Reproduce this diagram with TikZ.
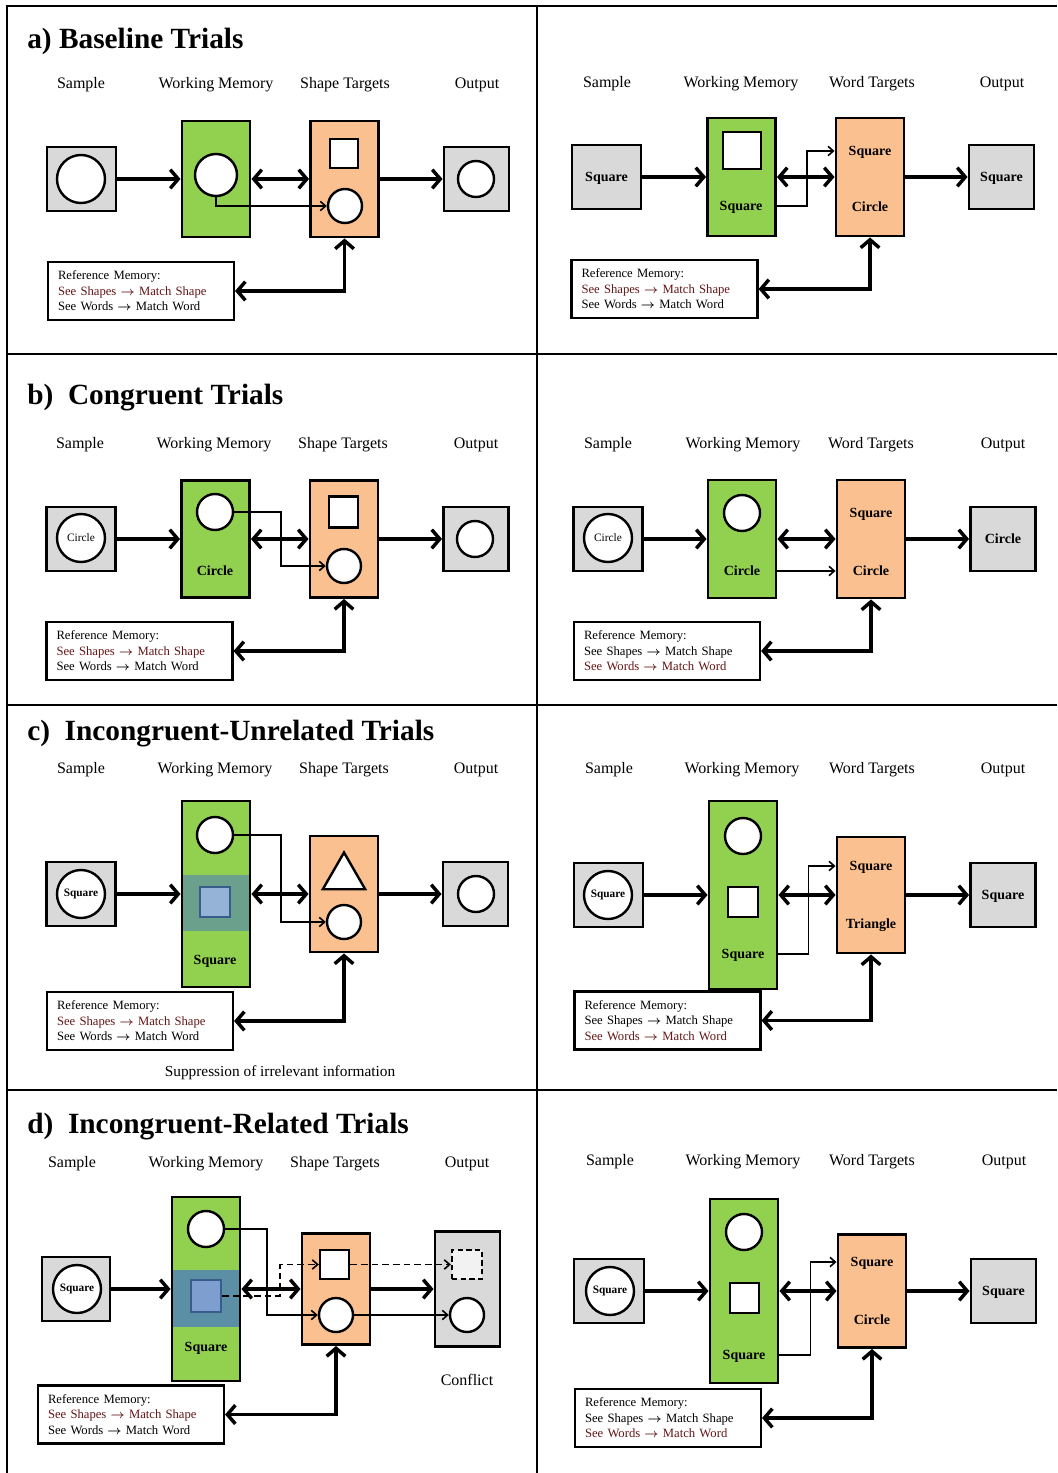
\documentclass[tikz,border=0pt]{standalone}
\usepackage{fontspec}
\usepackage{amsmath}
\setmainfont{Liberation Serif}
\usetikzlibrary{arrows.meta,shapes.geometric}

\definecolor{boxgray}{RGB}{217,217,217}
\definecolor{wmgreen}{RGB}{146,208,80}
\definecolor{tgtorange}{RGB}{250,192,144}
\definecolor{bandteal}{RGB}{106,160,140}
\definecolor{bandsteel}{RGB}{90,143,165}
\definecolor{sqblue}{RGB}{149,179,215}
\definecolor{sqbluedark}{RGB}{126,158,208}
\definecolor{sqedge}{RGB}{56,93,138}
\definecolor{ghostgray}{RGB}{242,242,242}
\definecolor{refred}{RGB}{100,22,22}

\newlength\pxu
\setlength\pxu{0.75pt}

\begin{document}
\begin{tikzpicture}[
    x=0.75pt, y=-0.75pt,
    every node/.style={inner sep=0pt, align=center},
    smp/.style={draw=black, fill=boxgray, line width=2.2pt, minimum width=69*\pxu, minimum height=64*\pxu},
    outb/.style={draw=black, fill=boxgray, line width=2.2pt, minimum width=65*\pxu, minimum height=64*\pxu},
    wm/.style={draw=black, fill=wmgreen, line width=2.2pt, minimum width=68*\pxu},
    tgt/.style={draw=black, fill=tgtorange, line width=2.2pt, minimum width=68*\pxu},
    band/.style={minimum width=66*\pxu, minimum height=56*\pxu},
    ring/.style={circle, draw=black, fill=white, line width=1.8pt},
    sq/.style={draw=black, fill=white, line width=1.8pt},
    refbox/.style={draw=black, fill=white, line width=1.6pt, align=left, text width=124.5pt, inner xsep=7.5pt, minimum height=43.5pt, font=\fontsize{9.5}{11.6}\selectfont},
    ttl/.style={anchor=west, yshift=-2pt, font=\fontsize{22}{25}\selectfont\bfseries},
    hdr/.style={yshift=-1.5pt, font=\fontsize{12}{14}\selectfont},
    lbl/.style={font=\fontsize{10.5}{12}\selectfont\bfseries, text height=7.5pt, text depth=0.5pt},
    ctxt/.style={font=\fontsize{8.5}{10}\selectfont},
    flow/.style={line width=2.6pt, -{Straight Barb[length=6pt, width=14pt]}},
    both/.style={line width=2.6pt, {Straight Barb[length=6pt, width=14pt]}-{Straight Barb[length=6pt, width=14pt]}},
    link/.style={line width=1.2pt, -{Straight Barb[length=4pt, width=7pt]}},
    hint/.style={link, dash pattern=on 5pt off 3pt}
]
\useasboundingbox (0,0) rectangle (1057,1473);

% frame
\draw[line width=2.2pt] (7,1473) -- (7,6) -- (1057,6);
\draw[line width=2.2pt] (537,6) -- (537,1473);
\draw[line width=2.2pt] (7,354) -- (1057,354);
\draw[line width=2.2pt] (7,705) -- (1057,705);
\draw[line width=2.2pt] (7,1090) -- (1057,1090);

% a) left
\node[ttl] (aT) at (27,39) {a) Baseline Trials};
\node[hdr] (aLh1) at (81,83) {Sample};
\node[hdr] (aLh2) at (216,83) {Working Memory};
\node[hdr] (aLh3) at (345,83) {Shape Targets};
\node[hdr] (aLh4) at (477,83) {Output};
\node[smp] (aLsmp) at (81.5,179) {};
\node[ring, minimum size=48*\pxu] (aLsc) at (81,179) {};
\node[wm, minimum height=116*\pxu] (aLwm) at (216,179) {};
\node[ring, minimum size=42*\pxu] (aLwmc) at (216,175) {};
\node[tgt, minimum height=116*\pxu] (aLtgt) at (344.5,179) {};
\node[sq, minimum width=28*\pxu, minimum height=29*\pxu] (aLtsq) at (344,153.5) {};
\node[ring, minimum size=34*\pxu] (aLtc) at (345,206) {};
\node[outb] (aLout) at (476.5,179) {};
\node[ring, minimum size=36*\pxu] (aLoc) at (476,179) {};
\node[refbox] (aLref) at (141,291) {Reference Memory:\\\textcolor{refred}{See Shapes $\boldsymbol{\rightarrow}$ Match Shape}\\See Words $\boldsymbol{\rightarrow}$ Match Word};
\draw[flow] (aLsmp) -- (aLwm);
\draw[both] (aLwm) -- (aLtgt);
\draw[flow] (aLtgt) -- (aLout);
\draw[link] (aLwmc.south) |- (aLtc.west);
\draw[both] (aLtgt.south) |- (aLref.east);

% a) right
\node[hdr] (aRh1) at (607,82) {Sample};
\node[hdr] (aRh2) at (741,82) {Working Memory};
\node[hdr] (aRh3) at (872,82) {Word Targets};
\node[hdr] (aRh4) at (1002,82) {Output};
\node[smp, lbl] (aRsmp) at (606.5,177) {Square};
\node[wm, minimum height=118*\pxu] (aRwm) at (741.5,177) {};
\node[sq, minimum width=38*\pxu, minimum height=37*\pxu] (aRwsq) at (742,150.5) {};
\node[lbl] (aRwt) at (741,206) {Square};
\node[tgt, minimum height=118*\pxu] (aRtgt) at (870,177) {};
\node[lbl] (aRt1) at (870,151) {Square};
\node[lbl] (aRt2) at (870,207) {Circle};
\node[outb, lbl] (aRout) at (1001.5,177) {Square};
\node[refbox] (aRref) at (664.5,289) {Reference Memory:\\\textcolor{refred}{See Shapes $\boldsymbol{\rightarrow}$ Match Shape}\\See Words $\boldsymbol{\rightarrow}$ Match Word};
\draw[flow] (aRsmp) -- (aRwm);
\draw[both] (aRwm) -- (aRtgt);
\draw[flow] (aRtgt) -- (aRout);
\draw[link] (aRwm.east |- aRwt) -- ++(30,0) |- (aRtgt.west |- aRt1);
\draw[both] (aRtgt.south) |- (aRref.east);

% b) left
\node[ttl] (bT) at (27,395) {b)\ \ Congruent Trials};
\node[hdr] (bLh1) at (80,443) {Sample};
\node[hdr] (bLh2) at (214,443) {Working Memory};
\node[hdr] (bLh3) at (343,443) {Shape Targets};
\node[hdr] (bLh4) at (476,443) {Output};
\node[smp] (bLsmp) at (81,539) {};
\node[ring, ctxt, minimum size=48*\pxu] (bLsc) at (81,538) {Circle};
\node[wm, minimum height=117*\pxu] (bLwm) at (215.5,539) {};
\node[ring, minimum size=36*\pxu] (bLwmc) at (215,512) {};
\node[lbl] (bLwt) at (215,571) {Circle};
\node[tgt, minimum height=117*\pxu] (bLtgt) at (344,539) {};
\node[sq, minimum width=29*\pxu, minimum height=31*\pxu] (bLtsq) at (343.5,512) {};
\node[ring, minimum size=34*\pxu] (bLtc) at (344,566) {};
\node[outb] (bLout) at (476,539) {};
\node[ring, minimum size=36*\pxu] (bLoc) at (475,539) {};
\node[refbox] (bLref) at (139.5,651) {Reference Memory:\\\textcolor{refred}{See Shapes $\boldsymbol{\rightarrow}$ Match Shape}\\See Words $\boldsymbol{\rightarrow}$ Match Word};
\draw[flow] (bLsmp) -- (bLwm);
\draw[both] (bLwm) -- (bLtgt);
\draw[flow] (bLtgt) -- (bLout);
\draw[link] (bLwmc.east) -- ++(47,0) |- (bLtc.west);
\draw[both] (bLtgt.south) |- (bLref.east);

% b) right
\node[hdr] (bRh1) at (608,443) {Sample};
\node[hdr] (bRh2) at (743,443) {Working Memory};
\node[hdr] (bRh3) at (871,443) {Word Targets};
\node[hdr] (bRh4) at (1003,443) {Output};
\node[smp] (bRsmp) at (608,539) {};
\node[ring, ctxt, minimum size=48*\pxu] (bRsc) at (608,538) {Circle};
\node[wm, minimum height=118*\pxu] (bRwm) at (742,539) {};
\node[ring, minimum size=36*\pxu] (bRwmc) at (742,513) {};
\node[lbl] (bRwt) at (742,571) {Circle};
\node[tgt, minimum height=118*\pxu] (bRtgt) at (871,539) {};
\node[lbl] (bRt1) at (871,513) {Square};
\node[lbl] (bRt2) at (871,571) {Circle};
\node[outb, lbl] (bRout) at (1003,539) {Circle};
\node[refbox] (bRref) at (667,651) {Reference Memory:\\See Shapes $\boldsymbol{\rightarrow}$ Match Shape\\\textcolor{refred}{See Words $\boldsymbol{\rightarrow}$ Match Word}};
\draw[flow] (bRsmp) -- (bRwm);
\draw[both] (bRwm) -- (bRtgt);
\draw[flow] (bRtgt) -- (bRout);
\draw[link] (bRwm.east |- bRwt) -- (bRtgt.west |- bRwt);
\draw[both] (bRtgt.south) |- (bRref.east);

% c) left
\node[ttl] (cT) at (27,731) {c)\ \ Incongruent-Unrelated Trials};
\node[hdr] (cLh1) at (81,768) {Sample};
\node[hdr] (cLh2) at (215,768) {Working Memory};
\node[hdr] (cLh3) at (344,768) {Shape Targets};
\node[hdr] (cLh4) at (476,768) {Output};
\node[smp] (cLsmp) at (81,894) {};
\node[ring, font=\fontsize{8.5}{10}\selectfont\bfseries, minimum size=48*\pxu] (cLsc) at (81,894) {Square};
\node[wm, minimum height=186*\pxu] (cLwm) at (216,894) {};
\node[band, fill=bandteal] (cLband) at (216,903) {};
\node[draw=sqedge, fill=sqblue, line width=1.5pt, minimum size=30*\pxu] (cLwsq) at (215,902) {};
\node[ring, minimum size=36*\pxu] (cLwmc) at (215,835) {};
\node[lbl] (cLwt) at (215,960) {Square};
\node[tgt, minimum height=116*\pxu] (cLtgt) at (344,894) {};
\node[regular polygon, regular polygon sides=3, draw=black, fill=white, line width=1.8pt, minimum size=49*\pxu] (cLtri) at (344,877) {};
\node[ring, minimum size=34*\pxu] (cLtc) at (344,922) {};
\node[outb] (cLout) at (475.5,894) {};
\node[ring, minimum size=36*\pxu] (cLoc) at (476,894) {};
\node[refbox] (cLref) at (140,1021) {Reference Memory:\\\textcolor{refred}{See Shapes $\boldsymbol{\rightarrow}$ Match Shape}\\See Words $\boldsymbol{\rightarrow}$ Match Word};
\node[yshift=-1.5pt, font=\fontsize{11.5}{13}\selectfont] (cLnote) at (280,1071) {Suppression of irrelevant information};
\draw[flow] (cLsmp) -- (cLwm);
\draw[both] (cLwm) -- (cLtgt);
\draw[flow] (cLtgt) -- (cLout);
\draw[link] (cLwmc.east) -- ++(47,0) |- (cLtc.west);
\draw[both] (cLtgt.south) |- (cLref.east);

% c) right
\node[hdr] (cRh1) at (609,768) {Sample};
\node[hdr] (cRh2) at (742,768) {Working Memory};
\node[hdr] (cRh3) at (872,768) {Word Targets};
\node[hdr] (cRh4) at (1003,768) {Output};
\node[smp] (cRsmp) at (608.5,895) {};
\node[ring, font=\fontsize{8.5}{10}\selectfont\bfseries, minimum size=48*\pxu] (cRsc) at (608,895) {Square};
\node[wm, minimum height=188*\pxu] (cRwm) at (743,895) {};
\node[ring, minimum size=36*\pxu] (cRwmc) at (743,836) {};
\node[sq, minimum size=30*\pxu] (cRwsq) at (743,902) {};
\node[lbl] (cRwt) at (743,954) {Square};
\node[tgt, minimum height=116*\pxu] (cRtgt) at (871,895) {};
\node[lbl] (cRt1) at (871,866) {Square};
\node[lbl] (cRt2) at (871,924) {Triangle};
\node[outb, lbl] (cRout) at (1003,895) {Square};
\node[refbox] (cRref) at (667.5,1020.5) {Reference Memory:\\See Shapes $\boldsymbol{\rightarrow}$ Match Shape\\\textcolor{refred}{See Words $\boldsymbol{\rightarrow}$ Match Word}};
\draw[flow] (cRsmp) -- (cRwm);
\draw[both] (cRwm) -- (cRtgt);
\draw[flow] (cRtgt) -- (cRout);
\draw[link] (cRwm.east |- cRwt) -- ++(30,0) |- (cRtgt.west |- cRt1);
\draw[both] (cRtgt.south) |- (cRref.east);

% d) left
\node[ttl] (dT) at (27,1124) {d)\ \ Incongruent-Related Trials};
\node[hdr] (dLh1) at (72,1162) {Sample};
\node[hdr] (dLh2) at (206,1162) {Working Memory};
\node[hdr] (dLh3) at (335,1162) {Shape Targets};
\node[hdr] (dLh4) at (467,1162) {Output};
\node[smp, minimum width=68*\pxu] (dLsmp) at (76,1289) {};
\node[ring, font=\fontsize{8.5}{10}\selectfont\bfseries, minimum size=48*\pxu] (dLsc) at (77,1289) {Square};
\node[wm, minimum height=184*\pxu] (dLwm) at (206,1289) {};
\node[band, fill=bandsteel, minimum height=57*\pxu] (dLband) at (206,1298.5) {};
\node[draw=sqedge, fill=sqbluedark, line width=1.5pt, minimum width=30*\pxu, minimum height=32*\pxu] (dLwsq) at (206,1296) {};
\node[ring, minimum size=36*\pxu] (dLwmc) at (206,1229) {};
\node[lbl] (dLwt) at (206,1347) {Square};
\node[tgt, minimum height=111*\pxu] (dLtgt) at (336,1289) {};
\node[sq, minimum size=29*\pxu] (dLtsq) at (334.5,1264.5) {};
\node[ring, minimum size=34*\pxu] (dLtc) at (336,1315) {};
\node[outb, minimum height=115*\pxu] (dLout) at (467.5,1289) {};
\node[sq, fill=ghostgray, dash pattern=on 4pt off 2.5pt, minimum width=30*\pxu, minimum height=29*\pxu] (dLosq) at (467,1264.5) {};
\node[ring, minimum size=34*\pxu] (dLoc) at (467,1315) {};
\node[hdr] (dLconf) at (467,1378) {Conflict};
\node[refbox] (dLref) at (131,1414.5) {Reference Memory:\\\textcolor{refred}{See Shapes $\boldsymbol{\rightarrow}$ Match Shape}\\See Words $\boldsymbol{\rightarrow}$ Match Word};
\draw[flow] (dLsmp) -- (dLwm);
\draw[both] (dLwm) -- (dLtgt);
\draw[flow] (dLtgt) -- (dLout);
\draw[link] (dLwmc.east) -- ++(42,0) |- (dLtc.west);
\draw[link] (dLtc) -- (dLoc);
\draw[hint] (dLwsq.east) -- ++(58,0) |- (dLtsq.west);
\draw[hint] (dLtsq) -- (dLosq);
\draw[both] (dLtgt.south) |- (dLref.east);

% d) right
\node[hdr] (dRh1) at (610,1160) {Sample};
\node[hdr] (dRh2) at (743,1160) {Working Memory};
\node[hdr] (dRh3) at (872,1160) {Word Targets};
\node[hdr] (dRh4) at (1004,1160) {Output};
\node[smp, minimum width=70*\pxu] (dRsmp) at (609,1291) {};
\node[ring, font=\fontsize{8.5}{10}\selectfont\bfseries, minimum size=48*\pxu] (dRsc) at (610,1291) {Square};
\node[wm, minimum height=184*\pxu] (dRwm) at (744,1291) {};
\node[ring, minimum size=36*\pxu] (dRwmc) at (744,1232) {};
\node[sq, minimum width=29*\pxu, minimum height=30*\pxu] (dRwsq) at (744.5,1298) {};
\node[lbl] (dRwt) at (744,1355) {Square};
\node[tgt, minimum height=113*\pxu] (dRtgt) at (872,1291) {};
\node[lbl] (dRt1) at (872,1262) {Square};
\node[lbl] (dRt2) at (872,1320) {Circle};
\node[outb, lbl] (dRout) at (1003.5,1291) {Square};
\node[refbox] (dRref) at (668,1418) {Reference Memory:\\See Shapes $\boldsymbol{\rightarrow}$ Match Shape\\\textcolor{refred}{See Words $\boldsymbol{\rightarrow}$ Match Word}};
\draw[flow] (dRsmp) -- (dRwm);
\draw[both] (dRwm) -- (dRtgt);
\draw[flow] (dRtgt) -- (dRout);
\draw[link] (dRwm.east |- dRwt) -- ++(31,0) |- (dRtgt.west |- dRt1);
\draw[both] (dRtgt.south) |- (dRref.east);

\end{tikzpicture}
\end{document}
